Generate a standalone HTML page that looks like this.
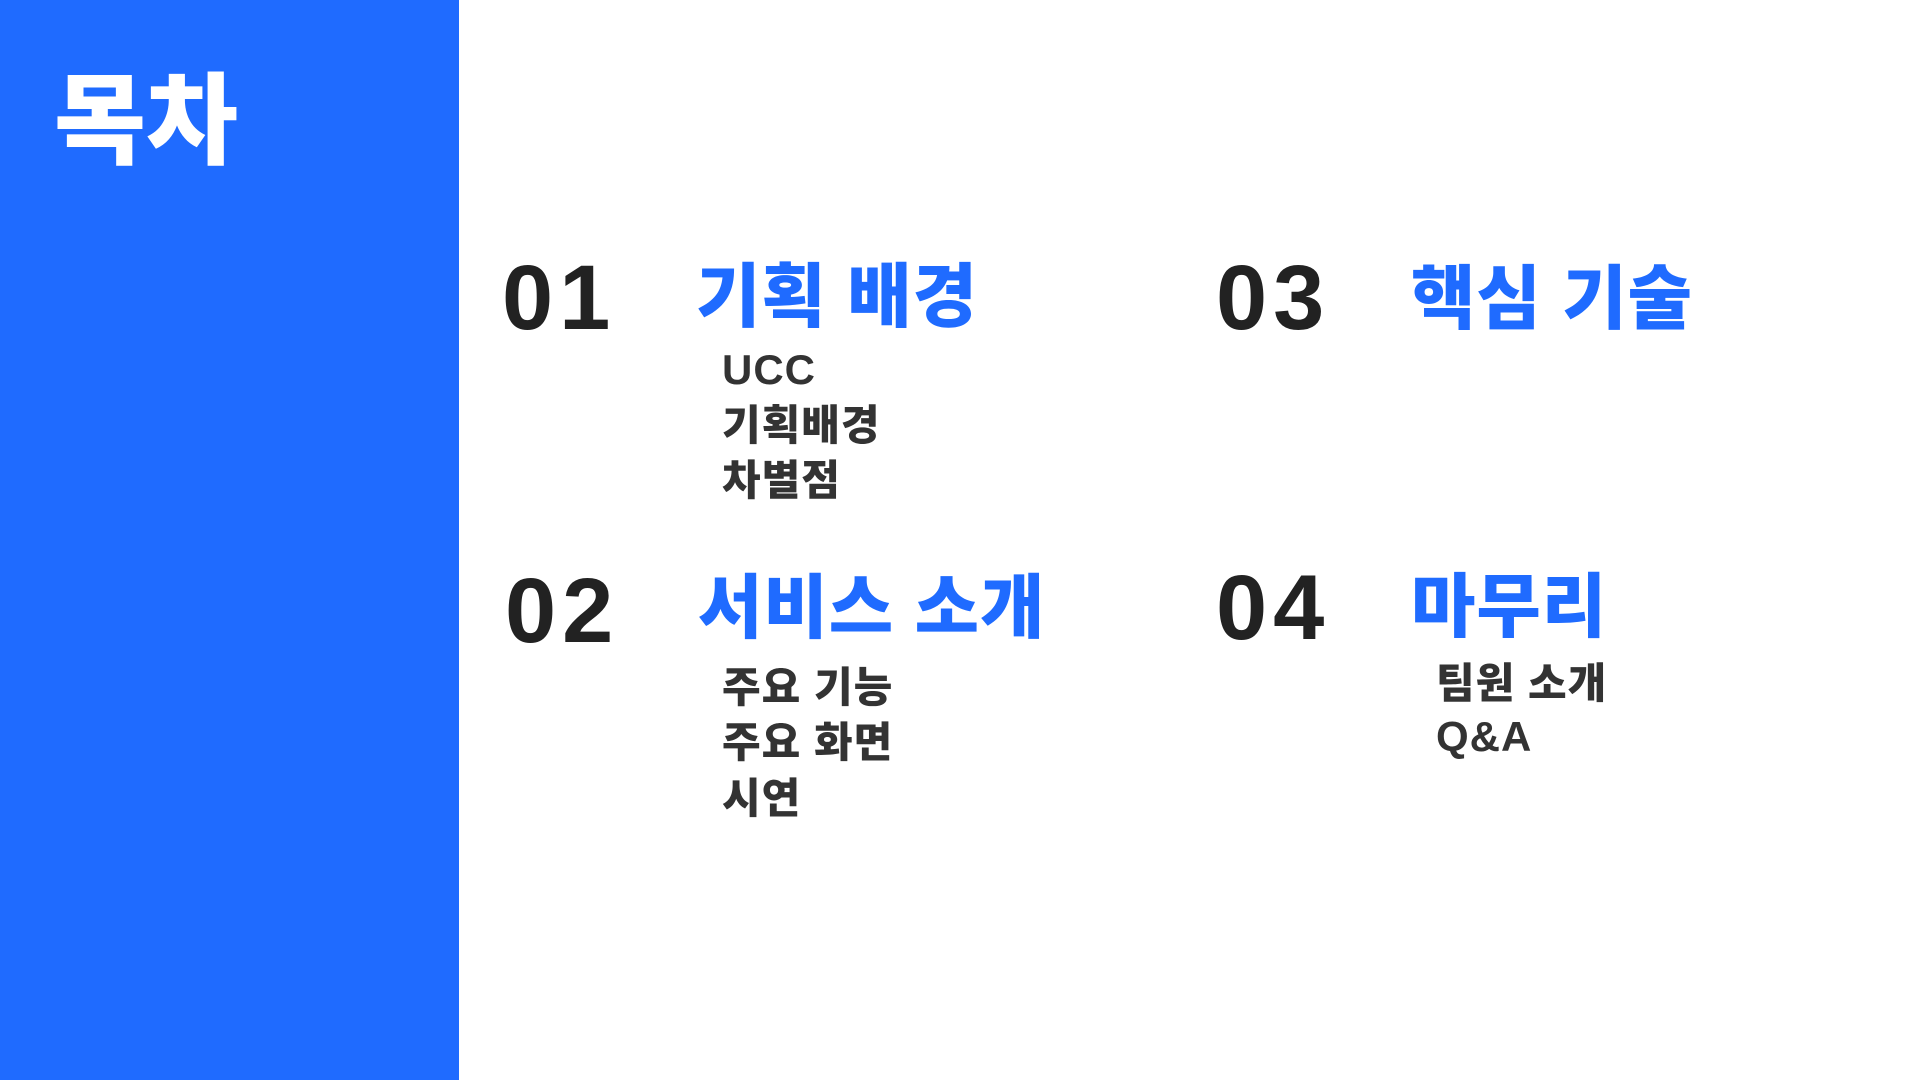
<!DOCTYPE html>
<html lang="ko"><head><meta charset="utf-8">
<style>
html,body{margin:0;padding:0;width:1920px;height:1080px;overflow:hidden;background:#fff;}
body{font-family:"Liberation Sans","Noto Sans CJK KR",sans-serif;font-weight:900;position:relative;}
.abs{position:absolute;white-space:nowrap;line-height:1;}
.panel{left:0;top:0;width:459px;height:1080px;background:#1F6BFF;}
.title{left:54px;top:72px;font-size:100px;color:#fff;letter-spacing:0px;}
.num{font-size:92px;color:#222;letter-spacing:6px;}
.head{font-size:70px;color:#1F6BFF;letter-spacing:1px;}
.sub{font-size:42px;color:#333;letter-spacing:1px;}
</style></head><body>
<div class="abs panel"></div>
<div class="abs title">목차</div>

<div class="abs num" style="left:502px;top:252px">01</div>
<div class="abs head" style="left:696px;top:262px">기획 배경</div>
<div class="abs sub" style="left:722px;top:349px">UCC</div>
<div class="abs sub" style="left:722px;top:405px">기획배경</div>
<div class="abs sub" style="left:722px;top:460px">차별점</div>

<div class="abs num" style="left:505px;top:565px">02</div>
<div class="abs head" style="left:698px;top:573px">서비스 소개</div>
<div class="abs sub" style="left:722px;top:667px">주요 기능</div>
<div class="abs sub" style="left:722px;top:722px">주요 화면</div>
<div class="abs sub" style="left:722px;top:778px">시연</div>

<div class="abs num" style="left:1216px;top:252px">03</div>
<div class="abs head" style="left:1411px;top:264px">핵심 기술</div>

<div class="abs num" style="left:1216px;top:562px">04</div>
<div class="abs head" style="left:1411px;top:572px">마무리</div>
<div class="abs sub" style="left:1436px;top:663px">팀원 소개</div>
<div class="abs sub" style="left:1436px;top:716px">Q&amp;A</div>
</body></html>
